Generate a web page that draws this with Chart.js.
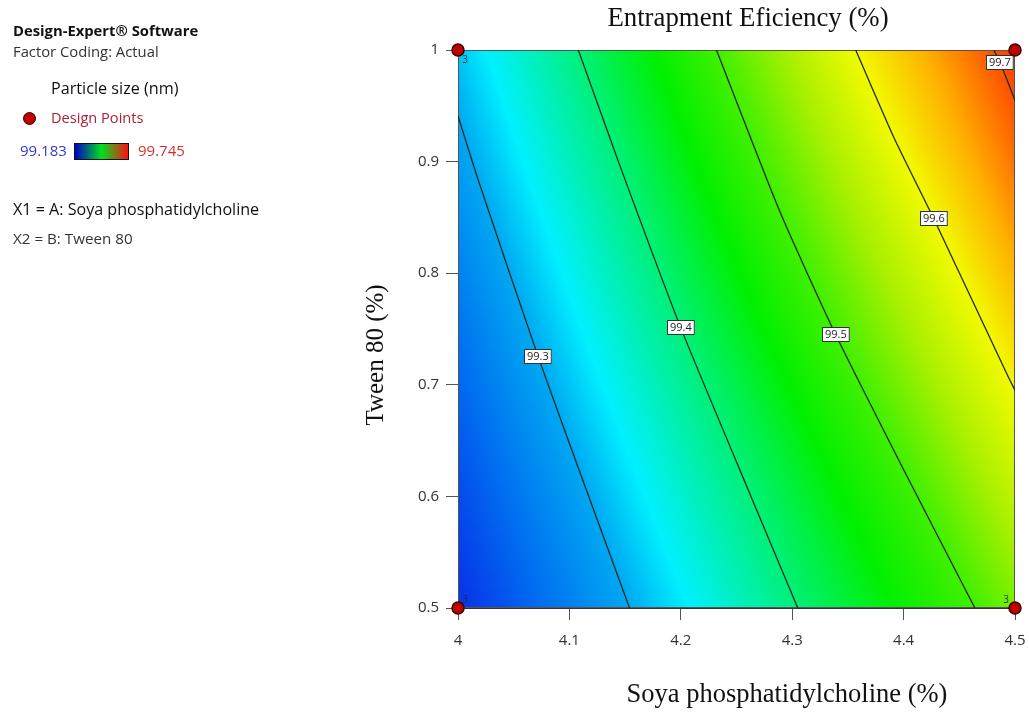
<!DOCTYPE html>
<html>
<head>
<meta charset="utf-8">
<script src="https://cdn.jsdelivr.net/npm/chart.js@4.4.1/dist/chart.umd.min.js"></script>
<style>
  body { margin: 0; background: #fff; }
  #wrap { position: relative; width: 1029px; height: 713px; }
  #chart { position: absolute; left: 0; top: 0; }
  .side { position: absolute; font-family: "Open Sans", sans-serif; white-space: nowrap; line-height: 1; }
  .bar { position: absolute; left: 74px; top: 143px; width: 53px; height: 15px; border: 1px solid #111;
         background: linear-gradient(to right, #0000c8, #00e020 50%, #ff1010); }
  .dot { position: absolute; left: 23px; top: 112px; width: 13px; height: 13px; border-radius: 50%;
         background: #c00000; border: 1.5px solid #300; box-sizing: border-box; }
</style>
</head>
<body>
<div id="wrap">
  <canvas id="chart" width="1029" height="713"></canvas>
  <div class="side" style="left:13px;top:23px;font-size:14.8px;font-weight:bold;color:#111">Design-Expert® Software</div>
  <div class="side" style="left:13px;top:44px;font-size:14.8px;color:#333">Factor Coding: Actual</div>
  <div class="side" style="left:51px;top:80px;font-size:16.2px;color:#111">Particle size (nm)</div>
  <div class="dot"></div>
  <div class="side" style="left:51px;top:110px;font-size:14.6px;color:#b0203a">Design Points</div>
  <div class="side" style="left:20px;top:143px;font-size:15px;color:#3636d0">99.183</div>
  <div class="bar"></div>
  <div class="side" style="left:138px;top:143px;font-size:15px;color:#d83030">99.745</div>
  <div class="side" style="left:13px;top:201px;font-size:16.1px;color:#111">X1 = A: Soya phosphatidylcholine</div>
  <div class="side" style="left:13px;top:231px;font-size:15.2px;color:#333">X2 = B: Tween 80</div>
</div>
<script>
// axis ticks
const xTickLabels = ['4', '4.1', '4.2', '4.3', '4.4', '4.5'];
const yTickLabels = ['0.5', '0.6', '0.7', '0.8', '0.9', '1'];

// contour levels and the lines  [x (Soya PC %), y (Tween 80 %)]
const levels = [99.3, 99.4, 99.5, 99.6, 99.7];
const contour993 = [[4.0, 0.941], [4.018, 0.884], [4.072, 0.725], [4.11, 0.62], [4.154, 0.5]];
const contour994 = [[4.108, 1.0], [4.144, 0.9], [4.2, 0.751], [4.263, 0.6], [4.305, 0.5]];
const contour995 = [[4.232, 1.0], [4.289, 0.855], [4.339, 0.745], [4.402, 0.62], [4.464, 0.5]];
const contour996 = [[4.357, 1.0], [4.392, 0.92], [4.427, 0.849], [4.494, 0.707], [4.5, 0.695]];
const contour997 = [[4.481, 1.0], [4.487, 0.988], [4.5, 0.955]];
const contours = [contour993, contour994, contour995, contour996, contour997];
const labelIndex = [2, 2, 2, 2, 1];

// design points
const designX = [4, 4, 4.5, 4.5];
const designY = [1, 0.5, 0.5, 1];
const designReps = [3, 3, 3, 3];

// colour ramp for the response (value -> colour)
const rampValues = [99.183, 99.25, 99.3, 99.335, 99.4, 99.454, 99.5, 99.55, 99.6, 99.65, 99.7, 99.745];
const rampColors = ['#0a1ee6', '#0070f0', '#00a8f2', '#00f0ff', '#00f078', '#00f000', '#40f000',
                    '#a8f000', '#f2fa00', '#ffb000', '#ff5000', '#ff2000'];

function hexRgb(h) {
  return [parseInt(h.slice(1, 3), 16), parseInt(h.slice(3, 5), 16), parseInt(h.slice(5, 7), 16)];
}
function colorOf(v) {
  if (v <= rampValues[0]) return rampColors[0];
  for (let i = 0; i < rampValues.length - 1; i++) {
    if (v <= rampValues[i + 1]) {
      const t = (v - rampValues[i]) / (rampValues[i + 1] - rampValues[i]);
      const a = hexRgb(rampColors[i]), b = hexRgb(rampColors[i + 1]);
      return 'rgb(' + a.map((c, k) => Math.round(c + (b[k] - c) * t)).join(',') + ')';
    }
  }
  return rampColors[rampColors.length - 1];
}

// x of a contour at a given y (straight segments, extended past the ends)
function xAt(line, y) {
  let i = 0;
  while (i < line.length - 2 && y < line[i + 1][1]) i++;
  const p = line[i], q = line[i + 1];
  return p[0] + (y - p[1]) * (q[0] - p[0]) / (q[1] - p[1]);
}

const fieldPlugin = {
  id: 'field',
  beforeDatasetsDraw(chart) {
    const { ctx, chartArea: a, scales: { x, y } } = chart;
    const w = a.right - a.left;
    ctx.save();
    for (let py = a.top; py < a.bottom; py += 2) {
      const yv = y.getValueForPixel(py + 1);
      const px = contours.map(l => x.getPixelForValue(xAt(l, yv)));
      const n = levels.length;
      const pxOf = v => {
        let i = 0;
        while (i < n - 2 && v > levels[i + 1]) i++;
        return px[i] + (v - levels[i]) * (px[i + 1] - px[i]) / (levels[i + 1] - levels[i]);
      };
      const valAt = p => {
        let i = 0;
        while (i < n - 2 && p > px[i + 1]) i++;
        return levels[i] + (p - px[i]) * (levels[i + 1] - levels[i]) / (px[i + 1] - px[i]);
      };
      const vL = valAt(a.left), vR = valAt(a.right);
      const g = ctx.createLinearGradient(a.left, 0, a.right, 0);
      g.addColorStop(0, colorOf(vL));
      rampValues.forEach(v => {
        if (v > vL && v < vR) g.addColorStop((pxOf(v) - a.left) / w, colorOf(v));
      });
      g.addColorStop(1, colorOf(vR));
      ctx.fillStyle = g;
      ctx.fillRect(a.left, py, w, Math.min(2, a.bottom - py));
    }
    ctx.strokeStyle = '#555';
    ctx.lineWidth = 1;
    ctx.strokeRect(a.left + 0.5, a.top + 0.5, w - 1, a.bottom - a.top - 1);
    ctx.restore();
  },
  beforeDatasetDraw(chart, args) {
    if (args.index !== 0) return;
    const { ctx, chartArea: a, scales: { x, y } } = chart;
    ctx.save();
    // replicate counts next to the design points
    ctx.font = '10px "Open Sans", sans-serif';
    ctx.fillStyle = '#1a3040';
    ctx.textAlign = 'center';
    ctx.textBaseline = 'middle';
    designX.forEach((dx, i) => {
      const px = x.getPixelForValue(dx), py = y.getPixelForValue(designY[i]);
      ctx.fillText(String(designReps[i]), px + (px < a.left + 5 ? 7 : -9), py + (py < a.top + 5 ? 10 : -8));
    });
    // contour labels
    ctx.font = '11px "Open Sans", sans-serif';
    contours.forEach((l, i) => {
      const p = l[labelIndex[i]];
      const cx = x.getPixelForValue(p[0]), cy = y.getPixelForValue(p[1]);
      const t = levels[i].toFixed(1);
      const tw = ctx.measureText(t).width + 6;
      let bx = Math.round(cx - tw / 2);
      if (bx + tw > a.right - 1) bx = Math.round(a.right - 1 - tw);
      const by = Math.round(cy - 8);
      ctx.fillStyle = '#fff';
      ctx.fillRect(bx, by, tw, 15);
      ctx.strokeStyle = '#2a362a';
      ctx.lineWidth = 1;
      ctx.strokeRect(bx + 0.5, by + 0.5, tw - 1, 14);
      ctx.fillStyle = '#222';
      ctx.fillText(t, bx + tw / 2, by + 8);
    });
    ctx.restore();
  },
  afterDraw(chart) {
    const ctx = chart.ctx;
    ctx.save();
    ctx.fillStyle = '#111';
    ctx.textAlign = 'center';
    ctx.textBaseline = 'middle';
    ctx.font = '26.8px "Liberation Serif", "Times New Roman", serif';
    ctx.fillText('Entrapment Eficiency (%)', 748, 19);
    ctx.font = '26.5px "Liberation Serif", "Times New Roman", serif';
    ctx.fillText('Soya phosphatidylcholine (%)', 787, 695);
    ctx.font = '25px "Liberation Serif", "Times New Roman", serif';
    ctx.translate(376, 355);
    ctx.rotate(-Math.PI / 2);
    ctx.fillText('Tween 80 (%)', 0, 0);
    ctx.restore();
  }
};

const contourSets = contours.map(l => ({
  data: l.map(p => ({ x: p[0], y: p[1] })),
  showLine: true,
  borderColor: '#1e2a1e',
  borderWidth: 1.3,
  pointRadius: 0,
  tension: 0.2,
  order: 1
}));

new Chart(document.getElementById('chart'), {
  type: 'scatter',
  data: {
    datasets: [{
      data: designX.map((v, i) => ({ x: v, y: designY[i] })),
      pointRadius: 6,
      pointBackgroundColor: '#c00000',
      pointBorderColor: '#3a0000',
      pointBorderWidth: 1.5,
      clip: false,
      order: 0
    }].concat(contourSets)
  },
  options: {
    responsive: false,
    animation: false,
    layout: { padding: { top: 50, right: 14, left: 0, bottom: 0 } },
    plugins: { legend: { display: false }, tooltip: { enabled: false } },
    scales: {
      x: {
        type: 'linear', min: 4, max: 4.5,
        ticks: { stepSize: 0.1, color: '#333', padding: 12, font: { family: 'Open Sans', size: 15 },
                 callback: (v, i) => xTickLabels[i] },
        grid: { drawOnChartArea: false, tickLength: 12, color: '#555' },
        border: { color: '#333' },
        afterFit: s => { s.height = 105; s.paddingLeft = 0; s.paddingRight = 0; }
      },
      y: {
        type: 'linear', min: 0.5, max: 1,
        ticks: { stepSize: 0.1, color: '#333', padding: 7, font: { family: 'Open Sans', size: 15 },
                 callback: (v, i) => yTickLabels[i] },
        grid: { drawOnChartArea: false, tickLength: 12, color: '#555' },
        border: { color: '#333' },
        afterFit: s => { s.width = 458; s.paddingTop = 0; s.paddingBottom = 0; }
      }
    }
  },
  plugins: [fieldPlugin]
});
</script>
</body>
</html>
